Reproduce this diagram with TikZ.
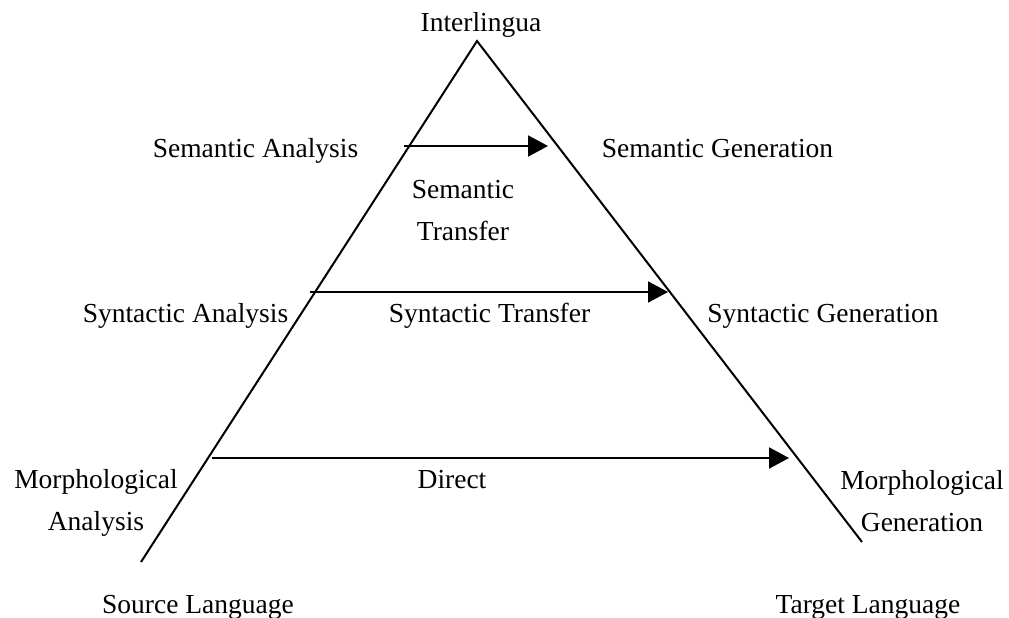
\documentclass[tikz,border=0pt]{standalone}
\usepackage{fontspec}
\setmainfont{Liberation Serif}
\usetikzlibrary{arrows.meta}
\begin{document}
\begin{tikzpicture}[x=1pt,y=-1pt,
  lbl/.style={inner sep=0pt, font=\fontsize{27.5}{42}\selectfont, align=center},
  edge/.style={line width=2pt},
  flow/.style={line width=2pt, -{Triangle[length=20pt,width=21pt]}}]
\useasboundingbox (0,0) rectangle (1009,618);
% the two sides of the pyramid
\coordinate (apex) at (477,41);
\coordinate (srcend) at (141,562);
\coordinate (tgtend) at (862,542);
\draw[edge] (srcend) -- (apex) -- (tgtend);
% transfer arrows
\coordinate (semL) at (404,146);
\coordinate (semR) at (548,146);
\coordinate (synL) at (310,292);
\coordinate (synR) at (668,292);
\coordinate (dirL) at (212,458);
\coordinate (dirR) at (789,458);
\draw[flow] (semL) -- (semR);
\draw[flow] (synL) -- (synR);
\draw[flow] (dirL) -- (dirR);
% labels
\node[lbl, anchor=base] (inter) at (481,32) {Interlingua};
\node[lbl, anchor=base] (semA) at (255.5,157) {Semantic Analysis};
\node[lbl, anchor=base] (semG) at (717.5,157) {Semantic Generation};
\node[lbl] (semT) at (463,211) {Semantic\\Transfer};
\node[lbl, anchor=base] (synA) at (185.5,322) {Syntactic Analysis};
\node[lbl, anchor=base] (synT) at (489.5,322) {Syntactic Transfer};
\node[lbl, anchor=base] (synG) at (823,322) {Syntactic Generation};
\node[lbl] (direct) at (452,480) {Direct};
\node[lbl] (morA) at (96,503) {Morphological\\Analysis};
\node[lbl] (morG) at (922,501) {Morphological\\Generation};
\node[lbl, anchor=base] (src) at (198,613) {Source Language};
\node[lbl, anchor=base] (tgt) at (868,613) {Target Language};
\end{tikzpicture}
\end{document}
